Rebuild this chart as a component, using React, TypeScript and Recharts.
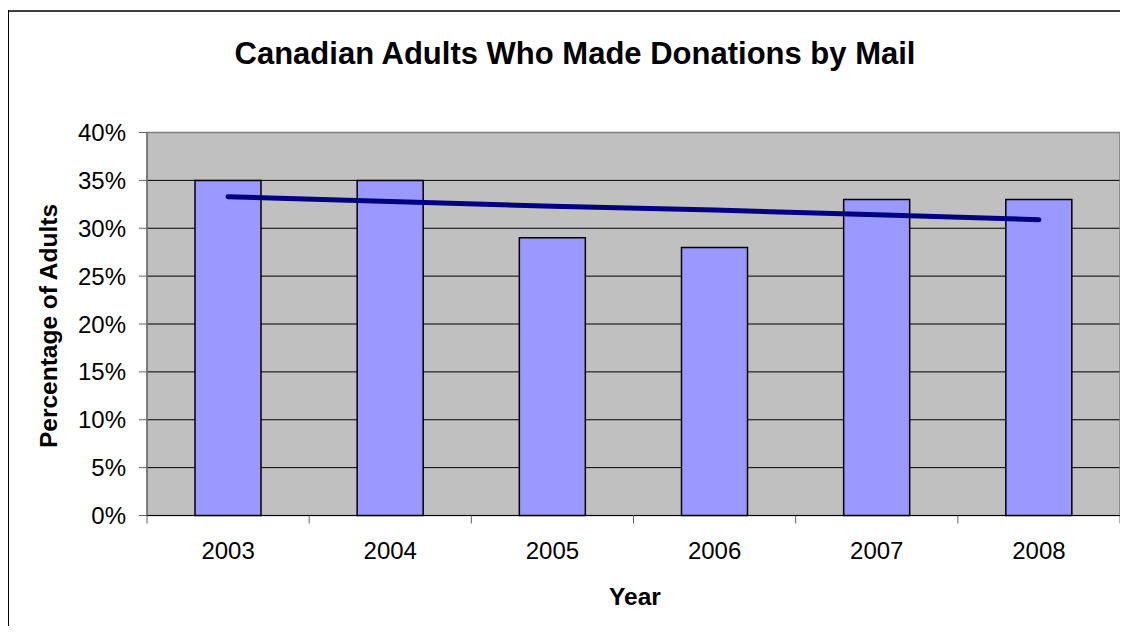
import React from 'react'
import {
  ComposedChart,
  Bar,
  Line,
  XAxis,
  YAxis,
  CartesianGrid,
  ReferenceArea,
} from 'recharts'

const years = ['2003', '2004', '2005', '2006', '2007', '2008']
const donors = [35, 35, 29, 28, 33, 33]
const trend = [33.3, 32.8, 32.3, 31.9, 31.4, 30.9]
const percentTicks = [0, 5, 10, 15, 20, 25, 30, 35, 40]

const data = years.map((year, i) => ({ year, donors: donors[i], trend: trend[i] }))

const FONT = '"Liberation Sans", Arial, sans-serif'

function YearTick(props: any) {
  const { x, y, payload, index, width, visibleTicksCount } = props
  const band = width / visibleTicksCount
  const half = band / 2
  return (
    <g>
      <line x1={x - half} y1={y} x2={x - half} y2={y + 8} stroke="#606060" />
      {index === visibleTicksCount - 1 && (
        <line x1={x + half} y1={y} x2={x + half} y2={y + 8} stroke="#606060" />
      )}
      <text x={x} y={y + 43.5} textAnchor="middle" fontSize={24} fill="#000" fontFamily={FONT}>
        {payload.value}
      </text>
    </g>
  )
}

function YTitle(props: any) {
  const vb = props.viewBox
  const cx = vb.x + 48.7
  const cy = vb.y + vb.height / 2 + 2
  return (
    <text
      x={cx}
      y={cy}
      transform={`rotate(-90, ${cx}, ${cy})`}
      textAnchor="middle"
      fontSize={24.5}
      fontWeight="bold"
      fill="#000"
      fontFamily={FONT}
    >
      Percentage of Adults
    </text>
  )
}

function XTitle(props: any) {
  const vb = props.viewBox
  return (
    <text
      x={vb.x + vb.width / 2 + 1.5}
      y={vb.y + 89.5}
      textAnchor="middle"
      fontSize={24.5}
      fontWeight="bold"
      fill="#000"
      fontFamily={FONT}
    >
      Year
    </text>
  )
}

export default function App() {
  return (
    <div style={{ position: 'relative', width: 1120, height: 618, fontFamily: FONT }}>
      {/* outer chart frame: only top and left edges fall inside the window */}
      <div style={{ position: 'absolute', left: -1, top: 2, width: 1121, height: 2, background: '#404040' }} />
      <div style={{ position: 'absolute', left: -1.5, top: 2, width: 2, height: 616, background: '#000' }} />
      <div
        style={{
          position: 'absolute',
          left: 567,
          top: 29.5,
          transform: 'translateX(-50%)',
          whiteSpace: 'nowrap',
          fontSize: 31,
          lineHeight: '31px',
          fontWeight: 'bold',
          color: '#000',
        }}
      >
        Canadian Adults Who Made Donations by Mail
      </div>
      <ComposedChart
        width={1120}
        height={618}
        data={data}
        margin={{ top: 124.5, right: 8, bottom: 0, left: 0 }}
        style={{ position: 'absolute', left: 0, top: 0 }}
      >
        <CartesianGrid vertical={false} stroke="#000" fill="#C0C0C0" fillOpacity={1} />
        <ReferenceArea y1={0} y2={40} stroke="#808080" strokeWidth={1.5} fill="none" fillOpacity={0} />
        <XAxis
          dataKey="year"
          height={110.5}
          tickLine={false}
          tickSize={0}
          tickMargin={0}
          axisLine={{ stroke: '#000' }}
          tick={<YearTick />}
          interval={0}
          label={<XTitle />}
        />
        <YAxis
          width={139}
          domain={[0, 40]}
          ticks={percentTicks}
          tickFormatter={(v: number) => `${v}%`}
          tickSize={8}
          tickMargin={13}
          tickLine={{ stroke: '#606060' }}
          axisLine={{ stroke: '#606060' }}
          tick={{ fontSize: 24, fill: '#000', fontFamily: FONT }}
          interval={0}
          label={<YTitle />}
        />
        <Bar
          dataKey="donors"
          barSize={66}
          fill="#9999FF"
          stroke="#000"
          strokeWidth={1.5}
          isAnimationActive={false}
        />
        <Line
          dataKey="trend"
          type="linear"
          stroke="#000080"
          strokeWidth={5}
          strokeLinecap="round"
          dot={false}
          activeDot={false}
          isAnimationActive={false}
        />
      </ComposedChart>
    </div>
  )
}
